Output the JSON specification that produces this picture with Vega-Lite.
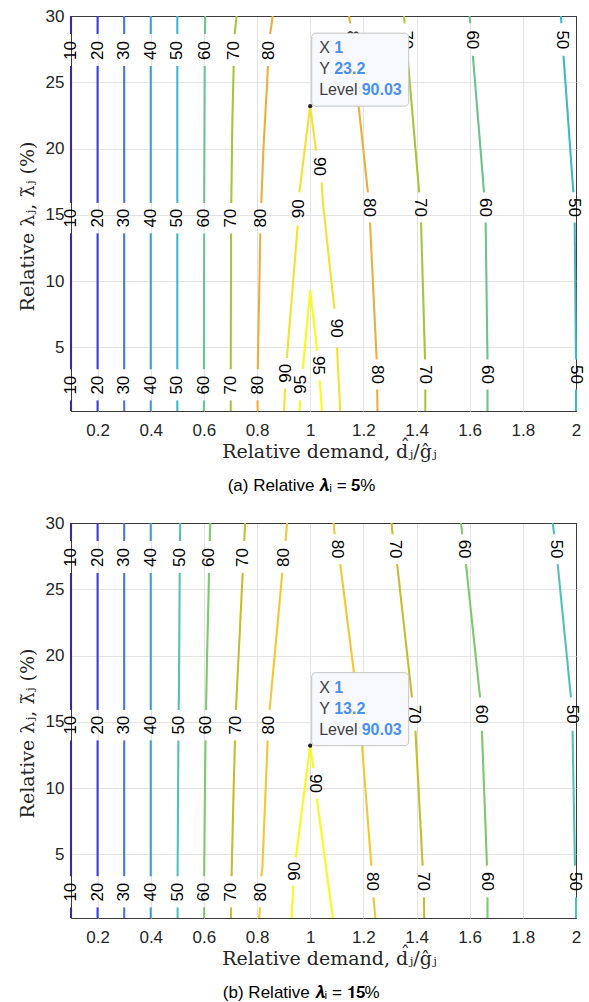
{
  "$schema": "https://vega.github.io/schema/vega-lite/v6.json",
  "background": "white",
  "padding": {"left": 17, "top": 6, "right": 0, "bottom": 0},
  "bounds": "flush",
  "spacing": 112,
  "resolve": {"scale": {"color": "independent"}},
  "datasets": {
    "lines": [
      {"p":"a","l":10,"s":"1","x":0.1,"y":0.2},{"p":"a","l":10,"s":"1","x":0.1,"y":1.0},
      {"p":"a","l":10,"s":"2","x":0.1,"y":3.35},{"p":"a","l":10,"s":"2","x":0.1,"y":13.6},
      {"p":"a","l":10,"s":"3","x":0.1,"y":15.9},{"p":"a","l":10,"s":"3","x":0.1,"y":26.23},
      {"p":"a","l":10,"s":"4","x":0.1,"y":28.64},{"p":"a","l":10,"s":"4","x":0.1,"y":30},
      {"p":"a","l":20,"s":"1","x":0.2,"y":0.2},{"p":"a","l":20,"s":"1","x":0.2,"y":1.0},
      {"p":"a","l":20,"s":"2","x":0.2,"y":3.35},{"p":"a","l":20,"s":"2","x":0.2,"y":13.6},
      {"p":"a","l":20,"s":"3","x":0.2,"y":15.9},{"p":"a","l":20,"s":"3","x":0.2,"y":26.23},
      {"p":"a","l":20,"s":"4","x":0.2,"y":28.64},{"p":"a","l":20,"s":"4","x":0.2,"y":30},
      {"p":"a","l":30,"s":"1","x":0.3,"y":0.2},{"p":"a","l":30,"s":"1","x":0.3,"y":1.0},
      {"p":"a","l":30,"s":"2","x":0.3,"y":3.35},{"p":"a","l":30,"s":"2","x":0.3,"y":13.6},
      {"p":"a","l":30,"s":"3","x":0.3,"y":15.9},{"p":"a","l":30,"s":"3","x":0.3,"y":26.23},
      {"p":"a","l":30,"s":"4","x":0.3,"y":28.64},{"p":"a","l":30,"s":"4","x":0.3,"y":30},
      {"p":"a","l":40,"s":"1","x":0.4,"y":0.2},{"p":"a","l":40,"s":"1","x":0.4,"y":1.0},
      {"p":"a","l":40,"s":"2","x":0.4,"y":3.35},{"p":"a","l":40,"s":"2","x":0.4,"y":13.6},
      {"p":"a","l":40,"s":"3","x":0.4,"y":15.9},{"p":"a","l":40,"s":"3","x":0.4,"y":26.23},
      {"p":"a","l":40,"s":"4","x":0.4,"y":28.64},{"p":"a","l":40,"s":"4","x":0.4,"y":30},
      {"p":"a","l":50,"s":"1","x":0.5,"y":0.2},{"p":"a","l":50,"s":"1","x":0.5,"y":1.0},
      {"p":"a","l":50,"s":"2","x":0.5,"y":3.35},{"p":"a","l":50,"s":"2","x":0.5,"y":13.6},
      {"p":"a","l":50,"s":"3","x":0.5,"y":15.9},{"p":"a","l":50,"s":"3","x":0.5,"y":26.23},
      {"p":"a","l":50,"s":"4","x":0.5,"y":28.64},{"p":"a","l":50,"s":"4","x":0.5,"y":30},
      {"p":"a","l":50,"s":"5","x":1.943,"y":30},{"p":"a","l":50,"s":"5","x":1.945,"y":29.45},
      {"p":"a","l":50,"s":"6","x":1.953,"y":27.0},{"p":"a","l":50,"s":"6","x":1.99,"y":16.7},
      {"p":"a","l":50,"s":"7","x":1.995,"y":14.42},{"p":"a","l":50,"s":"7","x":2.0,"y":4.08},
      {"p":"a","l":50,"s":"8","x":2.0,"y":1.82},{"p":"a","l":50,"s":"8","x":2.0,"y":0.2},
      {"p":"a","l":60,"s":"1","x":0.6,"y":0.2},{"p":"a","l":60,"s":"1","x":0.6,"y":1.0},
      {"p":"a","l":60,"s":"2","x":0.6,"y":3.35},{"p":"a","l":60,"s":"2","x":0.601,"y":13.6},
      {"p":"a","l":60,"s":"3","x":0.601,"y":15.9},{"p":"a","l":60,"s":"3","x":0.603,"y":26.23},
      {"p":"a","l":60,"s":"4","x":0.604,"y":28.64},{"p":"a","l":60,"s":"4","x":0.605,"y":30},
      {"p":"a","l":60,"s":"5","x":1.6,"y":30},{"p":"a","l":60,"s":"5","x":1.602,"y":29.45},
      {"p":"a","l":60,"s":"6","x":1.612,"y":27.0},{"p":"a","l":60,"s":"6","x":1.654,"y":16.7},
      {"p":"a","l":60,"s":"7","x":1.66,"y":14.42},{"p":"a","l":60,"s":"7","x":1.667,"y":4.08},
      {"p":"a","l":60,"s":"8","x":1.667,"y":1.82},{"p":"a","l":60,"s":"8","x":1.667,"y":0.2},
      {"p":"a","l":70,"s":"1","x":0.701,"y":0.2},{"p":"a","l":70,"s":"1","x":0.701,"y":1.0},
      {"p":"a","l":70,"s":"2","x":0.701,"y":3.35},{"p":"a","l":70,"s":"2","x":0.702,"y":10},{"p":"a","l":70,"s":"2","x":0.702,"y":13.6},
      {"p":"a","l":70,"s":"3","x":0.703,"y":15.9},{"p":"a","l":70,"s":"3","x":0.707,"y":22},{"p":"a","l":70,"s":"3","x":0.712,"y":26.23},
      {"p":"a","l":70,"s":"4","x":0.716,"y":28.64},{"p":"a","l":70,"s":"4","x":0.723,"y":30},
      {"p":"a","l":70,"s":"5","x":1.353,"y":30},{"p":"a","l":70,"s":"5","x":1.355,"y":29.45},
      {"p":"a","l":70,"s":"6","x":1.366,"y":27.0},{"p":"a","l":70,"s":"6","x":1.41,"y":16.7},
      {"p":"a","l":70,"s":"7","x":1.417,"y":14.42},{"p":"a","l":70,"s":"7","x":1.432,"y":4.08},
      {"p":"a","l":70,"s":"8","x":1.433,"y":1.82},{"p":"a","l":70,"s":"8","x":1.433,"y":0.2},
      {"p":"a","l":80,"s":"1","x":0.802,"y":0.2},{"p":"a","l":80,"s":"1","x":0.802,"y":1.0},
      {"p":"a","l":80,"s":"2","x":0.803,"y":3.35},{"p":"a","l":80,"s":"2","x":0.804,"y":5},{"p":"a","l":80,"s":"2","x":0.809,"y":10},{"p":"a","l":80,"s":"2","x":0.812,"y":13.6},
      {"p":"a","l":80,"s":"3","x":0.816,"y":15.9},{"p":"a","l":80,"s":"3","x":0.824,"y":20},{"p":"a","l":80,"s":"3","x":0.838,"y":25},{"p":"a","l":80,"s":"3","x":0.841,"y":26.23},
      {"p":"a","l":80,"s":"4","x":0.849,"y":28.64},{"p":"a","l":80,"s":"4","x":0.859,"y":30},
      {"p":"a","l":80,"s":"5","x":1.146,"y":30},{"p":"a","l":80,"s":"5","x":1.15,"y":29.45},
      {"p":"a","l":80,"s":"6","x":1.162,"y":27.0},{"p":"a","l":80,"s":"6","x":1.217,"y":16.7},
      {"p":"a","l":80,"s":"7","x":1.225,"y":14.42},{"p":"a","l":80,"s":"7","x":1.25,"y":4.08},
      {"p":"a","l":80,"s":"8","x":1.252,"y":1.82},{"p":"a","l":80,"s":"8","x":1.253,"y":0.2},
      {"p":"a","l":90,"s":"1","x":0.902,"y":0.2},{"p":"a","l":90,"s":"1","x":0.905,"y":1.9},
      {"p":"a","l":90,"s":"2","x":0.912,"y":4.2},{"p":"a","l":90,"s":"2","x":0.953,"y":14.2},
      {"p":"a","l":90,"s":"3","x":0.959,"y":16.7},{"p":"a","l":90,"s":"3","x":1.0,"y":23.2},
      {"p":"a","l":90,"s":"4","x":1.0,"y":23.2},{"p":"a","l":90,"s":"4","x":1.022,"y":19.83},
      {"p":"a","l":90,"s":"5","x":1.043,"y":17.44},{"p":"a","l":90,"s":"5","x":1.047,"y":16.06},{"p":"a","l":90,"s":"5","x":1.091,"y":7.9},
      {"p":"a","l":90,"s":"6","x":1.1007,"y":5.0},{"p":"a","l":90,"s":"6","x":1.113,"y":0.2},
      {"p":"a","l":95,"s":"1","x":0.96,"y":0.2},{"p":"a","l":95,"s":"1","x":0.962,"y":1.0},
      {"p":"a","l":95,"s":"2","x":0.972,"y":3.38},{"p":"a","l":95,"s":"2","x":1.0,"y":9.3},
      {"p":"a","l":95,"s":"3","x":1.0,"y":9.3},{"p":"a","l":95,"s":"3","x":1.026,"y":4.76},
      {"p":"a","l":95,"s":"4","x":1.036,"y":2.5},{"p":"a","l":95,"s":"4","x":1.044,"y":0.2},

      {"p":"b","l":10,"s":"1","x":0.1,"y":0.2},{"p":"b","l":10,"s":"1","x":0.1,"y":1.0},
      {"p":"b","l":10,"s":"2","x":0.1,"y":3.35},{"p":"b","l":10,"s":"2","x":0.1,"y":13.6},
      {"p":"b","l":10,"s":"3","x":0.1,"y":15.9},{"p":"b","l":10,"s":"3","x":0.1,"y":26.23},
      {"p":"b","l":10,"s":"4","x":0.1,"y":28.64},{"p":"b","l":10,"s":"4","x":0.1,"y":30},
      {"p":"b","l":20,"s":"1","x":0.2,"y":0.2},{"p":"b","l":20,"s":"1","x":0.2,"y":1.0},
      {"p":"b","l":20,"s":"2","x":0.2,"y":3.35},{"p":"b","l":20,"s":"2","x":0.2,"y":13.6},
      {"p":"b","l":20,"s":"3","x":0.2,"y":15.9},{"p":"b","l":20,"s":"3","x":0.2,"y":26.23},
      {"p":"b","l":20,"s":"4","x":0.2,"y":28.64},{"p":"b","l":20,"s":"4","x":0.2,"y":30},
      {"p":"b","l":30,"s":"1","x":0.3,"y":0.2},{"p":"b","l":30,"s":"1","x":0.3,"y":1.0},
      {"p":"b","l":30,"s":"2","x":0.3,"y":3.35},{"p":"b","l":30,"s":"2","x":0.3,"y":13.6},
      {"p":"b","l":30,"s":"3","x":0.3,"y":15.9},{"p":"b","l":30,"s":"3","x":0.3,"y":26.23},
      {"p":"b","l":30,"s":"4","x":0.3,"y":28.64},{"p":"b","l":30,"s":"4","x":0.3,"y":30},
      {"p":"b","l":40,"s":"1","x":0.4,"y":0.2},{"p":"b","l":40,"s":"1","x":0.4,"y":1.0},
      {"p":"b","l":40,"s":"2","x":0.4,"y":3.35},{"p":"b","l":40,"s":"2","x":0.4,"y":13.6},
      {"p":"b","l":40,"s":"3","x":0.4,"y":15.9},{"p":"b","l":40,"s":"3","x":0.4,"y":26.23},
      {"p":"b","l":40,"s":"4","x":0.4,"y":28.64},{"p":"b","l":40,"s":"4","x":0.4,"y":30},
      {"p":"b","l":50,"s":"1","x":0.501,"y":0.2},{"p":"b","l":50,"s":"1","x":0.501,"y":1.0},
      {"p":"b","l":50,"s":"2","x":0.501,"y":3.35},{"p":"b","l":50,"s":"2","x":0.503,"y":10},{"p":"b","l":50,"s":"2","x":0.504,"y":13.6},
      {"p":"b","l":50,"s":"3","x":0.505,"y":15.9},{"p":"b","l":50,"s":"3","x":0.506,"y":17},{"p":"b","l":50,"s":"3","x":0.509,"y":26.23},
      {"p":"b","l":50,"s":"4","x":0.51,"y":28.64},{"p":"b","l":50,"s":"4","x":0.511,"y":30},
      {"p":"b","l":50,"s":"5","x":1.912,"y":30},{"p":"b","l":50,"s":"5","x":1.918,"y":29.15},
      {"p":"b","l":50,"s":"6","x":1.931,"y":26.9},{"p":"b","l":50,"s":"6","x":1.981,"y":16.84},
      {"p":"b","l":50,"s":"7","x":1.987,"y":14.33},{"p":"b","l":50,"s":"7","x":1.996,"y":4.15},
      {"p":"b","l":50,"s":"8","x":2.0,"y":1.76},{"p":"b","l":50,"s":"8","x":2.0,"y":0.2},
      {"p":"b","l":60,"s":"1","x":0.601,"y":0.2},{"p":"b","l":60,"s":"1","x":0.601,"y":1.0},
      {"p":"b","l":60,"s":"2","x":0.601,"y":3.35},{"p":"b","l":60,"s":"2","x":0.603,"y":8},{"p":"b","l":60,"s":"2","x":0.606,"y":13.6},
      {"p":"b","l":60,"s":"3","x":0.608,"y":15.9},{"p":"b","l":60,"s":"3","x":0.612,"y":20},{"p":"b","l":60,"s":"3","x":0.618,"y":25},{"p":"b","l":60,"s":"3","x":0.619,"y":26.23},
      {"p":"b","l":60,"s":"4","x":0.622,"y":28.64},{"p":"b","l":60,"s":"4","x":0.624,"y":30},
      {"p":"b","l":60,"s":"5","x":1.567,"y":30},{"p":"b","l":60,"s":"5","x":1.572,"y":29.15},
      {"p":"b","l":60,"s":"6","x":1.586,"y":26.9},{"p":"b","l":60,"s":"6","x":1.639,"y":16.84},
      {"p":"b","l":60,"s":"7","x":1.646,"y":14.33},{"p":"b","l":60,"s":"7","x":1.665,"y":4.15},
      {"p":"b","l":60,"s":"8","x":1.667,"y":1.76},{"p":"b","l":60,"s":"8","x":1.667,"y":0.2},
      {"p":"b","l":70,"s":"1","x":0.702,"y":0.2},{"p":"b","l":70,"s":"1","x":0.702,"y":1.0},
      {"p":"b","l":70,"s":"2","x":0.704,"y":3.35},{"p":"b","l":70,"s":"2","x":0.706,"y":5},{"p":"b","l":70,"s":"2","x":0.712,"y":10},{"p":"b","l":70,"s":"2","x":0.717,"y":13.6},
      {"p":"b","l":70,"s":"3","x":0.72,"y":15.9},{"p":"b","l":70,"s":"3","x":0.722,"y":16.5},{"p":"b","l":70,"s":"3","x":0.738,"y":23},{"p":"b","l":70,"s":"3","x":0.746,"y":26.23},
      {"p":"b","l":70,"s":"4","x":0.752,"y":28.64},{"p":"b","l":70,"s":"4","x":0.755,"y":30},
      {"p":"b","l":70,"s":"5","x":1.306,"y":30},{"p":"b","l":70,"s":"5","x":1.31,"y":29.15},
      {"p":"b","l":70,"s":"6","x":1.327,"y":26.9},{"p":"b","l":70,"s":"6","x":1.383,"y":16.84},
      {"p":"b","l":70,"s":"7","x":1.396,"y":14.33},{"p":"b","l":70,"s":"7","x":1.423,"y":4.15},
      {"p":"b","l":70,"s":"8","x":1.428,"y":1.76},{"p":"b","l":70,"s":"8","x":1.429,"y":0.2},
      {"p":"b","l":80,"s":"1","x":0.808,"y":0.2},{"p":"b","l":80,"s":"1","x":0.811,"y":1.0},
      {"p":"b","l":80,"s":"2","x":0.816,"y":3.35},{"p":"b","l":80,"s":"2","x":0.82,"y":4},{"p":"b","l":80,"s":"2","x":0.84,"y":13.6},
      {"p":"b","l":80,"s":"3","x":0.847,"y":15.9},{"p":"b","l":80,"s":"3","x":0.85,"y":16.5},{"p":"b","l":80,"s":"3","x":0.88,"y":23},{"p":"b","l":80,"s":"3","x":0.895,"y":26.23},
      {"p":"b","l":80,"s":"4","x":0.907,"y":28.64},{"p":"b","l":80,"s":"4","x":0.913,"y":30},
      {"p":"b","l":80,"s":"5","x":1.088,"y":30},{"p":"b","l":80,"s":"5","x":1.092,"y":29.15},
      {"p":"b","l":80,"s":"6","x":1.113,"y":26.9},{"p":"b","l":80,"s":"6","x":1.164,"y":18.8},{"p":"b","l":80,"s":"6","x":1.175,"y":16.84},
      {"p":"b","l":80,"s":"7","x":1.188,"y":14.33},{"p":"b","l":80,"s":"7","x":1.195,"y":13.2},{"p":"b","l":80,"s":"7","x":1.23,"y":4.15},
      {"p":"b","l":80,"s":"8","x":1.238,"y":1.76},{"p":"b","l":80,"s":"8","x":1.245,"y":0.2},
      {"p":"b","l":90,"s":"1","x":0.93,"y":0.2},{"p":"b","l":90,"s":"1","x":0.936,"y":2.65},
      {"p":"b","l":90,"s":"2","x":0.946,"y":4.8},{"p":"b","l":90,"s":"2","x":1.0,"y":13.2},
      {"p":"b","l":90,"s":"3","x":1.0,"y":13.2},{"p":"b","l":90,"s":"3","x":1.012,"y":11.5},
      {"p":"b","l":90,"s":"4","x":1.025,"y":9.2},{"p":"b","l":90,"s":"4","x":1.085,"y":0.2}
    ],
    "labels": [
      {"p":"a","l":10,"side":"L","x":0.1,"y":2.15},{"p":"a","l":10,"side":"L","x":0.1,"y":14.75},{"p":"a","l":10,"side":"L","x":0.1,"y":27.4},
      {"p":"a","l":20,"side":"L","x":0.2,"y":2.15},{"p":"a","l":20,"side":"L","x":0.2,"y":14.75},{"p":"a","l":20,"side":"L","x":0.2,"y":27.4},
      {"p":"a","l":30,"side":"L","x":0.3,"y":2.15},{"p":"a","l":30,"side":"L","x":0.3,"y":14.75},{"p":"a","l":30,"side":"L","x":0.3,"y":27.4},
      {"p":"a","l":40,"side":"L","x":0.4,"y":2.15},{"p":"a","l":40,"side":"L","x":0.4,"y":14.75},{"p":"a","l":40,"side":"L","x":0.4,"y":27.4},
      {"p":"a","l":50,"side":"L","x":0.5,"y":2.15},{"p":"a","l":50,"side":"L","x":0.5,"y":14.75},{"p":"a","l":50,"side":"L","x":0.5,"y":27.4},
      {"p":"a","l":60,"side":"L","x":0.6,"y":2.15},{"p":"a","l":60,"side":"L","x":0.601,"y":14.75},{"p":"a","l":60,"side":"L","x":0.604,"y":27.4},
      {"p":"a","l":70,"side":"L","x":0.701,"y":2.15},{"p":"a","l":70,"side":"L","x":0.702,"y":14.75},{"p":"a","l":70,"side":"L","x":0.714,"y":27.4},
      {"p":"a","l":80,"side":"L","x":0.802,"y":2.15},{"p":"a","l":80,"side":"L","x":0.814,"y":14.75},{"p":"a","l":80,"side":"L","x":0.845,"y":27.4},
      {"p":"a","l":90,"side":"L","x":0.908,"y":3.05},{"p":"a","l":90,"side":"L","x":0.956,"y":15.45},
      {"p":"a","l":95,"side":"L","x":0.966,"y":2.2},
      {"p":"a","l":80,"side":"R","x":1.156,"y":28.2},{"p":"a","l":80,"side":"R","x":1.221,"y":15.56},{"p":"a","l":80,"side":"R","x":1.251,"y":2.95},
      {"p":"a","l":70,"side":"R","x":1.36,"y":28.2},{"p":"a","l":70,"side":"R","x":1.414,"y":15.56},{"p":"a","l":70,"side":"R","x":1.433,"y":2.95},
      {"p":"a","l":60,"side":"R","x":1.607,"y":28.2},{"p":"a","l":60,"side":"R","x":1.657,"y":15.56},{"p":"a","l":60,"side":"R","x":1.667,"y":2.95},
      {"p":"a","l":50,"side":"R","x":1.949,"y":28.2},{"p":"a","l":50,"side":"R","x":1.993,"y":15.56},{"p":"a","l":50,"side":"R","x":2.0,"y":2.95},
      {"p":"a","l":90,"side":"R","x":1.032,"y":18.64},{"p":"a","l":90,"side":"R","x":1.096,"y":6.45},
      {"p":"a","l":95,"side":"R","x":1.031,"y":3.63},

      {"p":"b","l":10,"side":"L","x":0.1,"y":2.15},{"p":"b","l":10,"side":"L","x":0.1,"y":14.75},{"p":"b","l":10,"side":"L","x":0.1,"y":27.4},
      {"p":"b","l":20,"side":"L","x":0.2,"y":2.15},{"p":"b","l":20,"side":"L","x":0.2,"y":14.75},{"p":"b","l":20,"side":"L","x":0.2,"y":27.4},
      {"p":"b","l":30,"side":"L","x":0.3,"y":2.15},{"p":"b","l":30,"side":"L","x":0.3,"y":14.75},{"p":"b","l":30,"side":"L","x":0.3,"y":27.4},
      {"p":"b","l":40,"side":"L","x":0.4,"y":2.15},{"p":"b","l":40,"side":"L","x":0.4,"y":14.75},{"p":"b","l":40,"side":"L","x":0.4,"y":27.4},
      {"p":"b","l":50,"side":"L","x":0.501,"y":2.15},{"p":"b","l":50,"side":"L","x":0.505,"y":14.75},{"p":"b","l":50,"side":"L","x":0.51,"y":27.4},
      {"p":"b","l":60,"side":"L","x":0.601,"y":2.15},{"p":"b","l":60,"side":"L","x":0.607,"y":14.75},{"p":"b","l":60,"side":"L","x":0.621,"y":27.4},
      {"p":"b","l":70,"side":"L","x":0.703,"y":2.15},{"p":"b","l":70,"side":"L","x":0.719,"y":14.75},{"p":"b","l":70,"side":"L","x":0.749,"y":27.4},
      {"p":"b","l":80,"side":"L","x":0.813,"y":2.15},{"p":"b","l":80,"side":"L","x":0.844,"y":14.75},{"p":"b","l":80,"side":"L","x":0.901,"y":27.4},
      {"p":"b","l":90,"side":"L","x":0.941,"y":3.72},
      {"p":"b","l":80,"side":"R","x":1.102,"y":28.03},{"p":"b","l":80,"side":"R","x":1.181,"y":15.58},{"p":"b","l":80,"side":"R","x":1.234,"y":2.95},
      {"p":"b","l":70,"side":"R","x":1.318,"y":28.03},{"p":"b","l":70,"side":"R","x":1.389,"y":15.58},{"p":"b","l":70,"side":"R","x":1.426,"y":2.95},
      {"p":"b","l":60,"side":"R","x":1.578,"y":28.03},{"p":"b","l":60,"side":"R","x":1.643,"y":15.58},{"p":"b","l":60,"side":"R","x":1.666,"y":2.95},
      {"p":"b","l":50,"side":"R","x":1.924,"y":28.03},{"p":"b","l":50,"side":"R","x":1.984,"y":15.58},{"p":"b","l":50,"side":"R","x":1.998,"y":2.95},
      {"p":"b","l":90,"side":"R","x":1.018,"y":10.35}
    ],
    "tips": [
      {"p":"a","x":1,"y":23.2,"lv":90.03},
      {"p":"b","x":1,"y":13.2,"lv":90.03}
    ]
  },
  "vconcat": [
    {
      "width": 505, "height": 395,
      "title": {"text": "(a) Relative 𝝀ᵢ = 𝟓%"},
      "encoding": {
        "x": {"field": "x", "type": "quantitative",
              "scale": {"domain": [0.1, 2], "nice": false, "zero": false},
              "axis": {"title": "Relative demand, d̂ⱼ/ĝⱼ", "values": [0.2,0.4,0.6,0.8,1,1.2,1.4,1.6,1.8,2], "format": "~g", "labelFlush": false, "titleX": 258,
                       "gridColor": {"condition": {"test": "datum.value >= 2", "value": "#3a3a3a"}, "value": "#e4e4e4"}}},
        "y": {"field": "y", "type": "quantitative",
              "scale": {"domain": [0.2, 30], "nice": false, "zero": false},
              "axis": {"title": "Relative λⱼ, λ̃ⱼ (%)", "values": [5,10,15,20,25,30], "titleY": 210,
                       "gridColor": {"condition": {"test": "datum.value >= 30", "value": "#3a3a3a"}, "value": "#e4e4e4"}}}
      },
      "layer": [
        {"data": {"name": "lines"}, "transform": [{"filter": "datum.p === 'a'"}],
         "mark": {"type": "line", "strokeWidth": 2.1, "strokeCap": "butt"},
         "encoding": {
           "color": {"field": "l", "type": "ordinal", "legend": null,
                     "scale": {"domain": [10,20,30,40,50,60,70,80,90,95],
                               "range": ["#3e26a8","#3b3fdd","#4a74f0","#3d9de5","#40b8c8","#6cc48a","#a6c63c","#eeae3a","#f2e232","#f9fa1e"]}},
           "detail": {"field": "s"},
           "order": {"field": "y", "type": "quantitative"}}},
        {"data": {"name": "labels"}, "transform": [{"filter": "datum.p === 'a' && datum.side === 'L'"}],
         "mark": {"type": "text", "angle": 270, "font": "Liberation Sans", "fontSize": 17, "color": "#000", "align": "center", "baseline": "middle"},
         "encoding": {"text": {"field": "l", "type": "nominal"}}},
        {"data": {"name": "labels"}, "transform": [{"filter": "datum.p === 'a' && datum.side === 'R'"}],
         "mark": {"type": "text", "angle": 90, "font": "Liberation Sans", "fontSize": 17, "color": "#000", "align": "center", "baseline": "middle"},
         "encoding": {"text": {"field": "l", "type": "nominal"}}},
        {"data": {"name": "tips"}, "transform": [{"filter": "datum.p === 'a'"}],
         "mark": {"type": "rect", "xOffset": 1.5, "x2Offset": 98.5, "yOffset": -73, "y2Offset": 0, "fill": "#f8f9fd", "stroke": "#c4c4c4", "strokeWidth": 1, "cornerRadius": 4},
         "encoding": {"x2": {"field": "x"}, "y2": {"field": "y"}}},
        {"data": {"name": "tips"}, "transform": [{"filter": "datum.p === 'a'"}],
         "mark": {"type": "point", "filled": true, "size": 18, "color": "#222222", "opacity": 1}},
        {"data": {"name": "tips"}, "transform": [{"filter": "datum.p === 'a'"}],
         "mark": {"type": "text", "text": "X", "align": "left", "baseline": "middle", "dx": 9, "dy": -58, "font": "Liberation Sans", "fontSize": 16, "color": "#404040"}},
        {"data": {"name": "tips"}, "transform": [{"filter": "datum.p === 'a'"}],
         "mark": {"type": "text", "text": "Y", "align": "left", "baseline": "middle", "dx": 9, "dy": -37, "font": "Liberation Sans", "fontSize": 16, "color": "#404040"}},
        {"data": {"name": "tips"}, "transform": [{"filter": "datum.p === 'a'"}],
         "mark": {"type": "text", "text": "Level", "align": "left", "baseline": "middle", "dx": 9, "dy": -16, "font": "Liberation Sans", "fontSize": 16, "color": "#404040"}},
        {"data": {"name": "tips"}, "transform": [{"filter": "datum.p === 'a'"}],
         "mark": {"type": "text", "align": "left", "baseline": "middle", "dx": 24, "dy": -58, "font": "Liberation Sans", "fontSize": 16, "fontWeight": "bold", "color": "#4a90ee"},
         "encoding": {"text": {"field": "x", "type": "quantitative", "format": "d"}}},
        {"data": {"name": "tips"}, "transform": [{"filter": "datum.p === 'a'"}],
         "mark": {"type": "text", "align": "left", "baseline": "middle", "dx": 24, "dy": -37, "font": "Liberation Sans", "fontSize": 16, "fontWeight": "bold", "color": "#4a90ee"},
         "encoding": {"text": {"field": "y", "type": "quantitative", "format": ".1f"}}},
        {"data": {"name": "tips"}, "transform": [{"filter": "datum.p === 'a'"}],
         "mark": {"type": "text", "align": "left", "baseline": "middle", "dx": 51.5, "dy": -16, "font": "Liberation Sans", "fontSize": 16, "fontWeight": "bold", "color": "#4a90ee"},
         "encoding": {"text": {"field": "lv", "type": "quantitative", "format": ".2f"}}}
      ]
    },
    {
      "width": 505, "height": 395,
      "title": {"text": "(b) Relative 𝝀ᵢ = 𝟏𝟓%"},
      "encoding": {
        "x": {"field": "x", "type": "quantitative",
              "scale": {"domain": [0.1, 2], "nice": false, "zero": false},
              "axis": {"title": "Relative demand, d̂ⱼ/ĝⱼ", "values": [0.2,0.4,0.6,0.8,1,1.2,1.4,1.6,1.8,2], "format": "~g", "labelFlush": false, "titleX": 258,
                       "gridColor": {"condition": {"test": "datum.value >= 2", "value": "#3a3a3a"}, "value": "#e4e4e4"}}},
        "y": {"field": "y", "type": "quantitative",
              "scale": {"domain": [0.2, 30], "nice": false, "zero": false},
              "axis": {"title": "Relative λⱼ, λ̃ⱼ (%)", "values": [5,10,15,20,25,30], "titleY": 210,
                       "gridColor": {"condition": {"test": "datum.value >= 30", "value": "#3a3a3a"}, "value": "#e4e4e4"}}}
      },
      "layer": [
        {"data": {"name": "lines"}, "transform": [{"filter": "datum.p === 'b'"}],
         "mark": {"type": "line", "strokeWidth": 2.1, "strokeCap": "butt"},
         "encoding": {
           "color": {"field": "l", "type": "ordinal", "legend": null,
                     "scale": {"domain": [10,20,30,40,50,60,70,80,90],
                               "range": ["#3e26a8","#3b3fdd","#4a74f0","#3d9de5","#52c2b8","#7cc96e","#c6bd30","#f5c733","#f9f91c"]}},
           "detail": {"field": "s"},
           "order": {"field": "y", "type": "quantitative"}}},
        {"data": {"name": "labels"}, "transform": [{"filter": "datum.p === 'b' && datum.side === 'L'"}],
         "mark": {"type": "text", "angle": 270, "font": "Liberation Sans", "fontSize": 17, "color": "#000", "align": "center", "baseline": "middle"},
         "encoding": {"text": {"field": "l", "type": "nominal"}}},
        {"data": {"name": "labels"}, "transform": [{"filter": "datum.p === 'b' && datum.side === 'R'"}],
         "mark": {"type": "text", "angle": 90, "font": "Liberation Sans", "fontSize": 17, "color": "#000", "align": "center", "baseline": "middle"},
         "encoding": {"text": {"field": "l", "type": "nominal"}}},
        {"data": {"name": "tips"}, "transform": [{"filter": "datum.p === 'b'"}],
         "mark": {"type": "rect", "xOffset": 1.5, "x2Offset": 98.5, "yOffset": -73, "y2Offset": 0, "fill": "#f8f9fd", "stroke": "#c4c4c4", "strokeWidth": 1, "cornerRadius": 4},
         "encoding": {"x2": {"field": "x"}, "y2": {"field": "y"}}},
        {"data": {"name": "tips"}, "transform": [{"filter": "datum.p === 'b'"}],
         "mark": {"type": "point", "filled": true, "size": 18, "color": "#222222", "opacity": 1}},
        {"data": {"name": "tips"}, "transform": [{"filter": "datum.p === 'b'"}],
         "mark": {"type": "text", "text": "X", "align": "left", "baseline": "middle", "dx": 9, "dy": -58, "font": "Liberation Sans", "fontSize": 16, "color": "#404040"}},
        {"data": {"name": "tips"}, "transform": [{"filter": "datum.p === 'b'"}],
         "mark": {"type": "text", "text": "Y", "align": "left", "baseline": "middle", "dx": 9, "dy": -37, "font": "Liberation Sans", "fontSize": 16, "color": "#404040"}},
        {"data": {"name": "tips"}, "transform": [{"filter": "datum.p === 'b'"}],
         "mark": {"type": "text", "text": "Level", "align": "left", "baseline": "middle", "dx": 9, "dy": -16, "font": "Liberation Sans", "fontSize": 16, "color": "#404040"}},
        {"data": {"name": "tips"}, "transform": [{"filter": "datum.p === 'b'"}],
         "mark": {"type": "text", "align": "left", "baseline": "middle", "dx": 24, "dy": -58, "font": "Liberation Sans", "fontSize": 16, "fontWeight": "bold", "color": "#4a90ee"},
         "encoding": {"text": {"field": "x", "type": "quantitative", "format": "d"}}},
        {"data": {"name": "tips"}, "transform": [{"filter": "datum.p === 'b'"}],
         "mark": {"type": "text", "align": "left", "baseline": "middle", "dx": 24, "dy": -37, "font": "Liberation Sans", "fontSize": 16, "fontWeight": "bold", "color": "#4a90ee"},
         "encoding": {"text": {"field": "y", "type": "quantitative", "format": ".1f"}}},
        {"data": {"name": "tips"}, "transform": [{"filter": "datum.p === 'b'"}],
         "mark": {"type": "text", "align": "left", "baseline": "middle", "dx": 51.5, "dy": -16, "font": "Liberation Sans", "fontSize": 16, "fontWeight": "bold", "color": "#4a90ee"},
         "encoding": {"text": {"field": "lv", "type": "quantitative", "format": ".2f"}}}
      ]
    }
  ],
  "config": {
    "view": {"stroke": "#3a3a3a", "strokeWidth": 1},
    "axis": {
      "grid": true, "gridWidth": 1, "domain": false, "ticks": false, "tickSize": 0,
      "labelFont": "Liberation Sans", "labelFontSize": 17, "labelColor": "#262626",
      "titleFont": "DejaVu Serif", "titleFontSize": 19, "titleFontWeight": "normal", "titleColor": "#262626"
    },
    "axisX": {"labelPadding": 11, "titlePadding": 4},
    "axisY": {"labelPadding": 7, "titlePadding": 8},
    "title": {"orient": "bottom", "anchor": "middle", "frame": "bounds", "font": "Liberation Sans", "fontSize": 17, "fontWeight": "normal", "color": "#000000", "offset": 17}
  }
}
